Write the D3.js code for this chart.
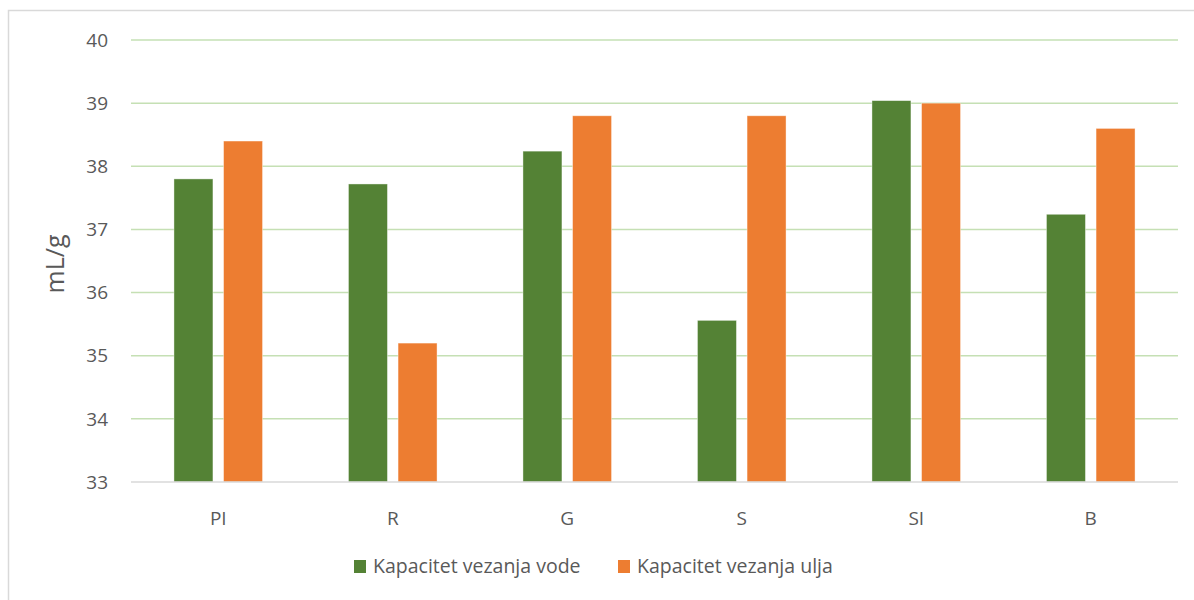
<!DOCTYPE html>
<html>
<head>
<meta charset="utf-8">
<script src="https://cdn.jsdelivr.net/npm/d3@7"></script>
<style>
  body { margin: 0; background: #fff; }
  svg { display: block; font-family: "Open Sans", "Liberation Sans", sans-serif; }
</style>
</head>
<body>
<svg id="chart"></svg>
<script>
var categories = ['PI', 'R', 'G', 'S', 'SI', 'B'];
var vode = [37.8, 37.72, 38.24, 35.56, 39.04, 37.24];
var ulja = [38.4, 35.2, 38.8, 38.8, 39.0, 38.6];
var seriesNames = ['Kapacitet vezanja vode', 'Kapacitet vezanja ulja'];
var colors = ['#548235', '#ed7d31'];
var yTicks = [33, 34, 35, 36, 37, 38, 39, 40];

var width = 1194;
var height = 600;
var borders = { top: 40, right: 16, bottom: 118, left: 131 };

var svg = d3.select('#chart').attr('width', width).attr('height', height);

// outer frame
svg.append('rect')
  .attr('x', 8.5).attr('y', 10.5)
  .attr('width', width).attr('height', height)
  .attr('fill', 'none').attr('stroke', '#d9d9d9').attr('stroke-width', 1.5);

var xScale = d3.scaleBand()
  .domain(categories)
  .range([borders.left, width - borders.right]);

var yScale = d3.scaleLinear()
  .domain([33, 40])
  .range([height - borders.bottom, borders.top]);

var inner = d3.scaleBand()
  .domain([0, 1])
  .range([0, xScale.bandwidth()])
  .paddingInner(0.214)
  .paddingOuter(0.866);

// gridlines
svg.append('g')
  .attr('class', 'grid')
  .selectAll('line')
  .data(yTicks.filter(function(d) { return d > 33; }))
  .enter()
  .append('line')
  .attr('x1', borders.left).attr('x2', width - borders.right)
  .attr('y1', function(d) { return yScale(d); })
  .attr('y2', function(d) { return yScale(d); })
  .attr('stroke', '#c5e0b4').attr('stroke-width', 1.5);

// y labels
svg.append('g')
  .selectAll('text')
  .data(yTicks)
  .enter()
  .append('text')
  .attr('x', 108)
  .attr('y', function(d) { return yScale(d); })
  .attr('dy', '0.35em')
  .attr('text-anchor', 'end')
  .attr('font-size', '19px')
  .attr('fill', '#595959')
  .text(function(d) { return d; });

// bars
var series = [vode, ulja];
series.forEach(function(vals, s) {
  svg.append('g')
    .selectAll('rect')
    .data(vals)
    .enter()
    .append('rect')
    .attr('x', function(d, i) { return xScale(categories[i]) + inner(s); })
    .attr('width', inner.bandwidth())
    .attr('y', function(d) { return yScale(d); })
    .attr('height', function(d) { return yScale(33) - yScale(d); })
    .attr('fill', colors[s])
    .attr('stroke', '#fff')
    .attr('stroke-opacity', 0.5)
    .attr('stroke-width', 0.8);
});

// x axis line
svg.append('line')
  .attr('x1', borders.left).attr('x2', width - borders.right)
  .attr('y1', yScale(33)).attr('y2', yScale(33))
  .attr('stroke', '#d9d9d9').attr('stroke-width', 1.5);

// x labels
svg.append('g')
  .selectAll('text')
  .data(categories)
  .enter()
  .append('text')
  .attr('x', function(d) { return xScale(d) + xScale.bandwidth() / 2; })
  .attr('y', 525)
  .attr('text-anchor', 'middle')
  .attr('font-size', '19px')
  .attr('fill', '#595959')
  .text(function(d) { return d; });

// y title
svg.append('text')
  .attr('transform', 'translate(64,264) rotate(-90)')
  .attr('text-anchor', 'middle')
  .attr('font-size', '25px')
  .attr('fill', '#595959')
  .text('mL/g');

// legend
var legendX = [354, 618];
seriesNames.forEach(function(name, s) {
  var g = svg.append('g').attr('transform', 'translate(' + legendX[s] + ',560)');
  g.append('rect').attr('width', 12).attr('height', 13).attr('fill', colors[s]);
  g.append('text')
    .attr('x', 19).attr('y', 6.5).attr('dy', '0.35em')
    .attr('font-size', '19.5px')
    .attr('fill', '#595959')
    .text(name);
});
</script>
</body>
</html>
